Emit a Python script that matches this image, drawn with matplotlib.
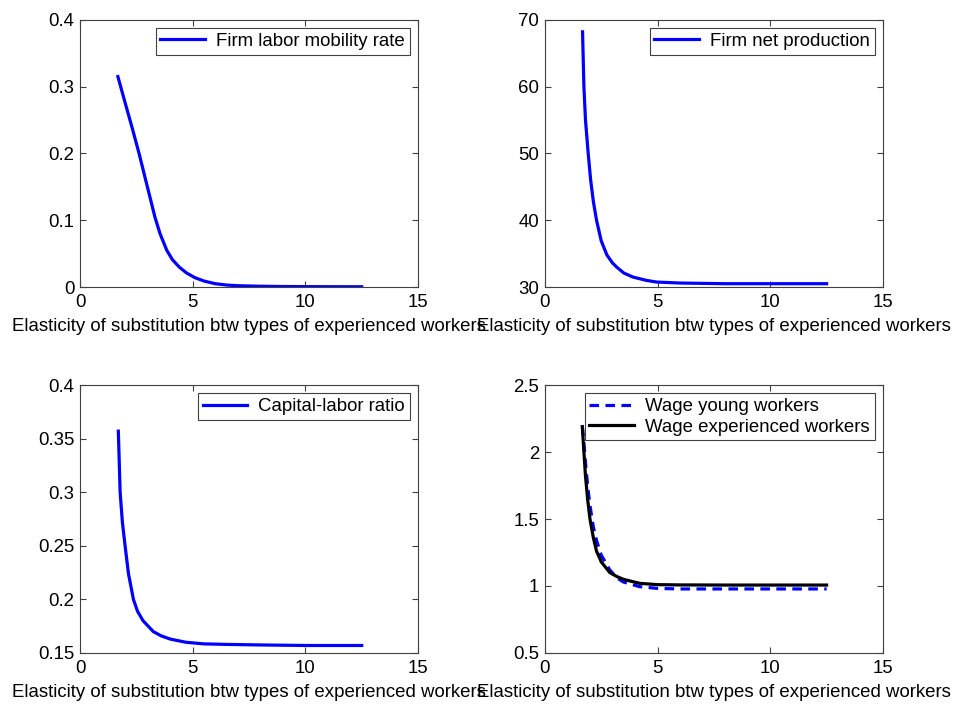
import matplotlib
matplotlib.use("Agg")
import matplotlib.pyplot as plt

plt.rcParams['font.family'] = ['Liberation Sans', 'DejaVu Sans']

xlabel_text = "Elasticity of substitution btw types of experienced workers"

# Panel 1: firm labor mobility rate
x_mob = [1.68, 2.0, 2.3, 2.62, 2.9, 3.1, 3.33, 3.55, 3.85, 4.1, 4.4, 4.73, 5.1, 5.5, 6.0, 6.5, 7.0, 8.0, 9.0, 10.0, 11.0, 12.5]
y_mob = [0.315, 0.276, 0.240, 0.200, 0.162, 0.135, 0.104, 0.080, 0.055, 0.041, 0.030, 0.021, 0.014, 0.009, 0.005, 0.003, 0.002, 0.0012, 0.0008, 0.0006, 0.0005, 0.0004]

# Panel 2: firm net production
x_prod = [1.67, 1.73, 1.8, 1.92, 2.03, 2.15, 2.29, 2.5, 2.75, 3.0, 3.18, 3.5, 3.9, 4.5, 4.95, 6.0, 8.0, 10.0, 12.5]
y_prod = [68.2, 60.0, 55.0, 50.0, 46.0, 42.8, 40.0, 36.9, 34.8, 33.6, 33.0, 32.1, 31.5, 31.0, 30.75, 30.6, 30.5, 30.5, 30.5]

# Panel 3: capital-labor ratio
x_kl = [1.70, 1.78, 1.88, 2.0, 2.15, 2.37, 2.55, 2.8, 3.25, 3.6, 4.0, 4.7, 5.5, 6.5, 8.0, 10.0, 12.5]
y_kl = [0.357, 0.300, 0.272, 0.250, 0.224, 0.200, 0.189, 0.180, 0.170, 0.166, 0.163, 0.160, 0.1585, 0.158, 0.1575, 0.157, 0.157]

# Panel 4: wages
x_wage = [1.66, 1.73, 1.8, 1.9, 2.0, 2.15, 2.29, 2.5, 2.88, 3.2, 3.48, 4.2, 5.0, 6.0, 8.0, 10.0, 12.5]
y_wage_young = [2.19, 2.07, 1.92, 1.74, 1.60, 1.44, 1.34, 1.23, 1.12, 1.06, 1.03, 0.995, 0.982, 0.978, 0.978, 0.978, 0.978]
y_wage_exp = [2.19, 2.00, 1.82, 1.64, 1.50, 1.36, 1.26, 1.18, 1.10, 1.07, 1.05, 1.02, 1.01, 1.008, 1.007, 1.007, 1.007]

FS = 13.4
BLUE = '#0000ff'

fig = plt.figure(figsize=(9.56, 7.07), dpi=100)
ax_w, ax_h = 0.3536, 0.378
positions = [
    [0.0837, 0.594, ax_w, ax_h],
    [0.570, 0.594, ax_w, ax_h],
    [0.0837, 0.0764, ax_w, 0.379],
    [0.570, 0.0764, ax_w, 0.379],
]
axes = [fig.add_axes(p) for p in positions]


def style(ax, ylim, yticks, yticklabels):
    ax.set_xlim(0, 15)
    ax.set_xticks([0, 5, 10, 15])
    ax.set_xticklabels(['0', '5', '10', '15'])
    ax.set_ylim(*ylim)
    ax.set_yticks(yticks)
    ax.set_yticklabels(yticklabels)
    ax.tick_params(direction='in', length=4, width=0.8, top=True, right=True,
                   labelsize=FS, color='#404040')
    ax.tick_params(axis='x', pad=5)
    ax.tick_params(axis='y', pad=4)
    for s in ax.spines.values():
        s.set_color('#404040')
        s.set_linewidth(0.8)
    ax.set_xlabel(xlabel_text, fontsize=FS, labelpad=5)


lw = 2.3
legkw = dict(loc='upper right', fontsize=FS, fancybox=False, framealpha=1,
             edgecolor='#404040', borderpad=0.25, handlelength=2.4,
             borderaxespad=0.45, labelspacing=0.2, handletextpad=0.6)

ax = axes[0]
ax.plot(x_mob, y_mob, color=BLUE, lw=lw, label='Firm labor mobility rate')
style(ax, (0, 0.4), [0, 0.1, 0.2, 0.3, 0.4], ['0', '0.1', '0.2', '0.3', '0.4'])
ax.legend(**legkw).get_frame().set_linewidth(0.8)

ax = axes[1]
ax.plot(x_prod, y_prod, color=BLUE, lw=lw, label='Firm net production')
style(ax, (30, 70), [30, 40, 50, 60, 70], ['30', '40', '50', '60', '70'])
ax.legend(**legkw).get_frame().set_linewidth(0.8)

ax = axes[2]
ax.plot(x_kl, y_kl, color=BLUE, lw=lw, label='Capital-labor ratio')
style(ax, (0.15, 0.4), [0.15, 0.2, 0.25, 0.3, 0.35, 0.4],
      ['0.15', '0.2', '0.25', '0.3', '0.35', '0.4'])
ax.legend(**legkw).get_frame().set_linewidth(0.8)

ax = axes[3]
ax.plot(x_wage, y_wage_young, color=BLUE, lw=lw, ls=(0, (3, 2)), label='Wage young workers')
ax.plot(x_wage, y_wage_exp, color='black', lw=lw, label='Wage experienced workers')
style(ax, (0.5, 2.5), [0.5, 1, 1.5, 2, 2.5], ['0.5', '1', '1.5', '2', '2.5'])
ax.legend(**legkw).get_frame().set_linewidth(0.8)

fig.savefig('out.png', dpi=100, facecolor='white')
